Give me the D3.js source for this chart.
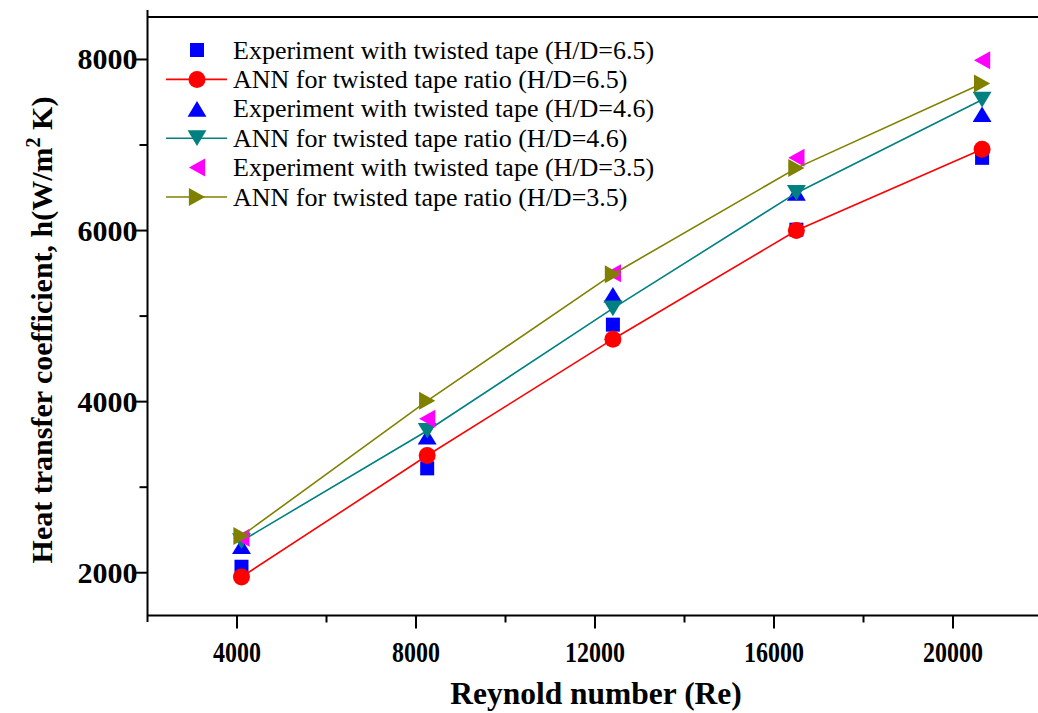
<!DOCTYPE html>
<html>
<head>
<meta charset="utf-8">
<script src="https://cdn.jsdelivr.net/npm/d3@7"></script>
<style>
  html, body { margin: 0; padding: 0; background: #fff; }
  svg { display: block; }
  text { font-family: "Liberation Serif", "Times New Roman", serif; fill: #000; }
</style>
</head>
<body>
<svg id="chart" width="1038" height="713"></svg>
<script>
// Reynolds numbers at which measurements / ANN predictions were taken
const reynolds = [4100, 8250, 12400, 16500, 20650];

// Heat transfer coefficient h (W/m^2 K)
const expHD65 = [2070, 3220, 4900, 6010, 6850];
const annHD65 = [1950, 3370, 4730, 6000, 6950];
const expHD46 = [2310, 3590, 5250, 6440, 7360];
const annHD46 = [2370, 3660, 5090, 6440, 7530];
const expHD35 = [2410, 3800, 5500, 6850, 7990];
const annHD35 = [2430, 4010, 5490, 6730, 7720];

const seriesNames = [
  "Experiment with twisted tape (H/D=6.5)",
  "ANN for twisted tape ratio (H/D=6.5)",
  "Experiment with twisted tape (H/D=4.6)",
  "ANN for twisted tape ratio (H/D=4.6)",
  "Experiment with twisted tape (H/D=3.5)",
  "ANN for twisted tape ratio (H/D=3.5)"
];

const xTicks = [4000, 8000, 12000, 16000, 20000];
const xMinorTicks = [6000, 10000, 14000, 18000];
const yTicks = [2000, 4000, 6000, 8000];
const yMinorTicks = [3000, 5000, 7000];

const series = [
  { name: seriesNames[0], values: expHD65, color: "#0000ff", shape: "square", line: false },
  { name: seriesNames[1], values: annHD65, color: "#ff0000", shape: "circle", line: true },
  { name: seriesNames[2], values: expHD46, color: "#0000ff", shape: "up", line: false },
  { name: seriesNames[3], values: annHD46, color: "#008080", shape: "down", line: true },
  { name: seriesNames[4], values: expHD35, color: "#ff00ff", shape: "left", line: false },
  { name: seriesNames[5], values: annHD35, color: "#808000", shape: "right", line: true }
];

const svg = d3.select("#chart");

const x = d3.scaleLinear().domain([2000, 22000]).range([147.5, 1042.5]);
const y = d3.scaleLinear().domain([1500, 8500]).range([615.5, 16.7]);

// marker outlines, centred on (0,0)
function markerPath(shape) {
  const s = 9;
  switch (shape) {
    case "square": return "M-7,-7H7V7H-7Z";
    case "circle": return d3.symbol(d3.symbolCircle, Math.PI * 8.5 * 8.5)();
    case "up":    return `M0,${-s * 0.87}L${s * 1.05},${s * 0.87}L${-s * 1.05},${s * 0.87}Z`;
    case "down":  return `M0,${s * 0.87}L${s * 1.05},${-s * 0.87}L${-s * 1.05},${-s * 0.87}Z`;
    case "left":  return `M${-s * 0.9},0L${s * 0.9},${-s}L${s * 0.9},${s}Z`;
    case "right": return `M${s * 0.9},0L${-s * 0.9},${-s}L${-s * 0.9},${s}Z`;
  }
}

// frame: top border and the two axis lines
svg.append("line").attr("x1", 147.5).attr("x2", 1038).attr("y1", 17).attr("y2", 17)
  .attr("stroke", "#000").attr("stroke-width", 2);
svg.append("line").attr("x1", 147.5).attr("x2", 1038).attr("y1", 615.5).attr("y2", 615.5)
  .attr("stroke", "#000").attr("stroke-width", 2);
svg.append("line").attr("x1", 147.5).attr("x2", 147.5).attr("y1", 10).attr("y2", 622)
  .attr("stroke", "#000").attr("stroke-width", 2);

// x axis ticks and labels
const xAxis = svg.append("g").attr("transform", "translate(0,615.5)");
xAxis.selectAll("line.major").data(xTicks).join("line")
  .attr("x1", d => x(d)).attr("x2", d => x(d)).attr("y1", 0).attr("y2", 13)
  .attr("stroke", "#000").attr("stroke-width", 2);
xAxis.selectAll("line.minor").data(xMinorTicks).join("line")
  .attr("x1", d => x(d)).attr("x2", d => x(d)).attr("y1", 0).attr("y2", 7)
  .attr("stroke", "#000").attr("stroke-width", 2);
xAxis.selectAll("text").data(xTicks).join("text")
  .attr("transform", d => `translate(${x(d)},46) scale(0.8,1)`)
  .attr("text-anchor", "middle")
  .attr("font-size", 30).attr("font-weight", "bold")
  .text(d => d);

// y axis ticks and labels
const yAxis = svg.append("g").attr("transform", "translate(147.5,0)");
yAxis.selectAll("line.major").data(yTicks).join("line")
  .attr("x1", -14).attr("x2", 0).attr("y1", d => y(d)).attr("y2", d => y(d))
  .attr("stroke", "#000").attr("stroke-width", 2);
yAxis.selectAll("line.minor").data(yMinorTicks).join("line")
  .attr("x1", -8).attr("x2", 0).attr("y1", d => y(d)).attr("y2", d => y(d))
  .attr("stroke", "#000").attr("stroke-width", 2);
yAxis.selectAll("text").data(yTicks).join("text")
  .attr("x", -10).attr("y", d => y(d) + 10)
  .attr("text-anchor", "end")
  .attr("font-size", 30).attr("font-weight", "bold")
  .text(d => d);

// axis titles
svg.append("text")
  .attr("transform", "translate(596,704)")
  .attr("text-anchor", "middle")
  .attr("font-size", 31.5).attr("font-weight", "bold")
  .text("Reynold number (Re)");

const yTitle = svg.append("text")
  .attr("transform", "translate(52,330) rotate(-90)")
  .attr("text-anchor", "middle")
  .attr("font-size", 30).attr("font-weight", "bold");
yTitle.append("tspan").text("Heat transfer coefficient, h(W/m");
yTitle.append("tspan").attr("dy", -12).attr("font-size", 20).text("2");
yTitle.append("tspan").attr("dy", 12).text(" K)");

// data: lines first for each ANN series, then its markers
const lineGen = d3.line().x((d, i) => x(reynolds[i])).y(d => y(d));
const plot = svg.append("g");
series.forEach(s => {
  if (s.line) {
    plot.append("path").datum(s.values)
      .attr("d", lineGen).attr("fill", "none")
      .attr("stroke", s.color).attr("stroke-width", 1.6);
  }
  plot.selectAll(null).data(s.values).join("path")
    .attr("transform", (d, i) => `translate(${x(reynolds[i])},${y(d)})`)
    .attr("d", markerPath(s.shape))
    .attr("fill", s.color);
});

// legend
const legend = svg.append("g");
series.forEach((s, i) => {
  const cy = 50 + i * 29.4;
  const g = legend.append("g").attr("transform", `translate(0,${cy})`);
  if (s.line) {
    g.append("line").attr("x1", 166).attr("x2", 227).attr("y1", 0).attr("y2", 0)
      .attr("stroke", s.color).attr("stroke-width", 1.6);
  }
  g.append("path").attr("transform", "translate(197,0)")
    .attr("d", markerPath(s.shape)).attr("fill", s.color);
  g.append("text").attr("x", 233).attr("y", 8.5)
    .attr("font-size", 26).text(s.name);
});
</script>
</body>
</html>
